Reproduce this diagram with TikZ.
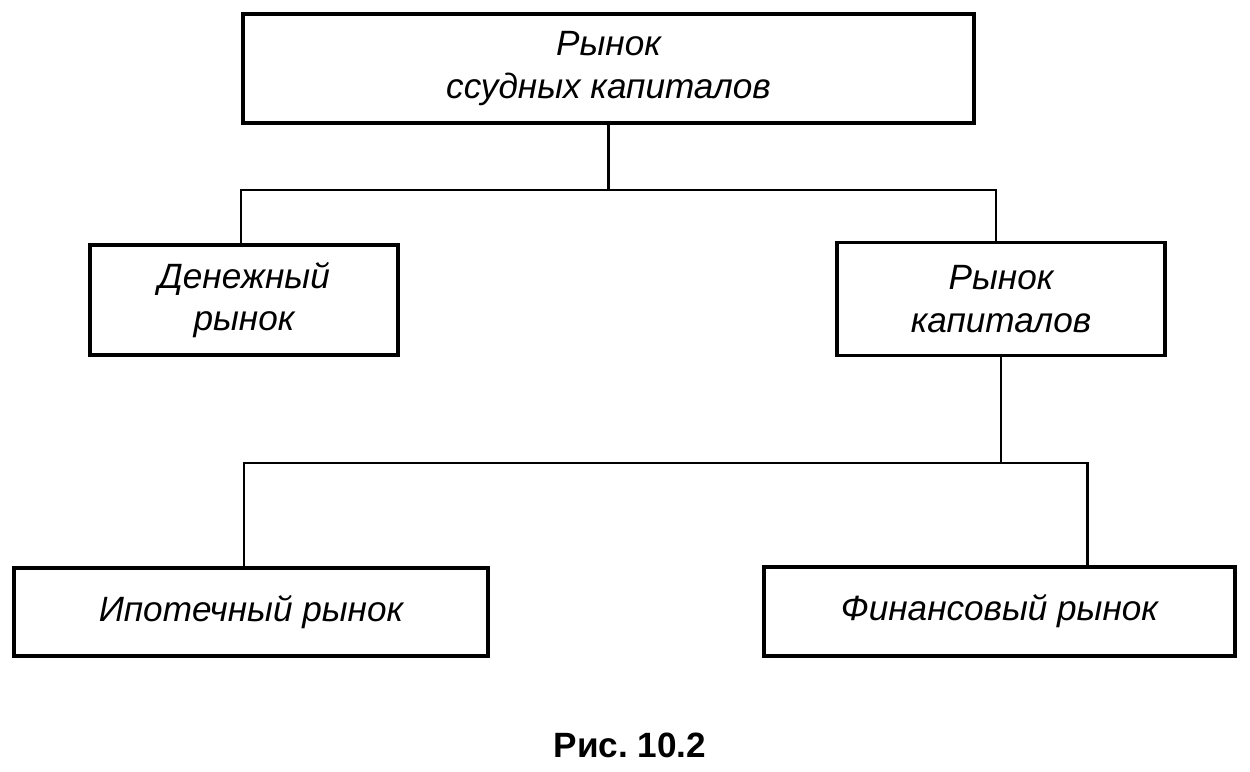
\documentclass[tikz,border=0pt]{standalone}
\usepackage{fontspec}
\setmainfont{Liberation Sans}
\usepackage{tikz}
\usetikzlibrary{positioning}

\begin{document}
\begin{tikzpicture}[x=0.02cm,y=-0.02cm,
box/.style={draw=black,line width=2.2pt,align=center,
font=\fontsize{20}{24}\selectfont\itshape},
link/.style={draw=black,line width=1.5pt}]
\useasboundingbox (0,0) rectangle (1250,771);
\node[box,minimum width=14.62cm,minimum height=2.18cm] (loan) at (608.5,68.5) {Рынок\\ссудных капиталов};
\node[box,minimum width=6.16cm,minimum height=2.2cm] (money) at (244,300) {Денежный\\рынок};
\node[box,minimum width=6.56cm,minimum height=2.26cm] (capital) at (1001,299) {Рынок\\капиталов};
\node[box,minimum width=9.48cm,minimum height=1.76cm] (mortgage) at (251,612) {Ипотечный рынок};
\node[box,minimum width=9.42cm,minimum height=1.78cm] (finance) at (999.5,611.5) {Финансовый рынок};
\coordinate (fork1) at (608.5,190);
\coordinate (fork2) at (1001,463);
\draw[link] (loan) -- (fork1);
\draw[link] ([xshift=-0.06cm]money.north) |- (fork1);
\draw[link] (fork1) -| ([xshift=-0.1cm]capital.north);
\draw[link] (capital) -- (fork2);
\draw[link] ([xshift=-0.14cm]mortgage.north) |- (fork2);
\draw[link] (fork2) -| ([xshift=1.76cm]finance.north);
\node[font=\fontsize{20}{24}\selectfont\bfseries] (caption) at (630,745) {Рис.\ 10.2};
\end{tikzpicture}
\end{document}
